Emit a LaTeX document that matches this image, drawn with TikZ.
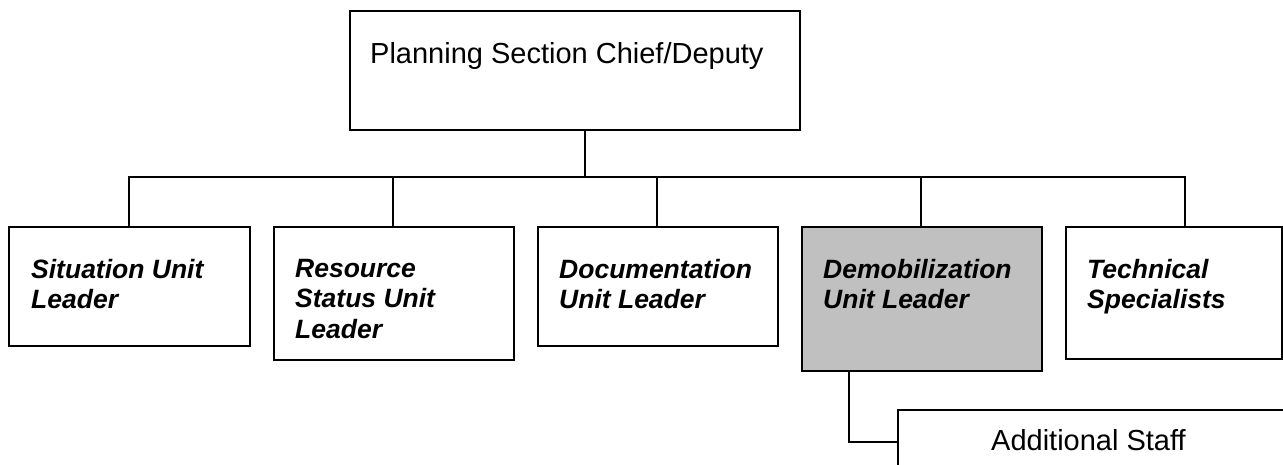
\documentclass[tikz,border=0pt]{standalone}
\usepackage{fontspec}
\setmainfont{Liberation Sans}
\definecolor{shade}{HTML}{C0C0C0}
\begin{document}
\begin{tikzpicture}[x=1pt,y=-1pt,
  box/.style={draw=black,line width=1.6pt,fill=white,anchor=north west,inner sep=0pt,minimum width=#1},
  unittext/.style={anchor=north west,inner sep=0pt,align=left,font=\fontsize{26.5}{30.5}\selectfont\bfseries\itshape},
  plaintext/.style={anchor=north west,inner sep=0pt,font=\fontsize{29}{34}\selectfont},
  link/.style={line width=1.6pt,line cap=rect}]
\useasboundingbox (0,0) rectangle (1283,465);
% boxes
\node[box=450pt,minimum height=119pt] (chief) at (349,10) {};
\node[box=241pt,minimum height=119pt] (sit) at (8,226) {};
\node[box=240pt,minimum height=133pt] (res) at (273,226) {};
\node[box=240pt,minimum height=119pt] (doc) at (537,226) {};
\node[box=240pt,minimum height=144pt,fill=shade] (demob) at (801,226) {};
\node[box=216pt,minimum height=132pt] (tech) at (1065,226) {};
\node[box=400pt,minimum height=80pt] (staff) at (897,409) {};
% labels
\node[plaintext] (chieflbl) at (370,42) {Planning Section Chief/Deputy};
\node[unittext] (sitlbl) at (31,259) {Situation Unit\\Leader};
\node[unittext] (reslbl) at (295,259) {Resource\\Status Unit\\Leader};
\node[unittext] (doclbl) at (559,259) {Documentation\\Unit Leader};
\node[unittext] (demoblbl) at (823,259) {Demobilization\\Unit Leader};
\node[unittext] (techlbl) at (1087,259) {Technical\\Specialists};
\node[plaintext] (stafflbl) at (991,429) {Additional Staff};
% connectors
\coordinate (bus) at (585,177);
\draw[link] (chief.south -| bus) -- (bus);
\draw[link] (sit.north -| 129,0) |- (bus);
\draw[link] (tech.north -| 1185,0) |- (bus);
\draw[link] (res.north -| 393,0) -- (393,177);
\draw[link] (doc.north -| 657,0) -- (657,177);
\draw[link] (demob.north -| 921,0) -- (921,177);
\draw[link] (demob.south -| 849,0) |- (staff.west |- 0,442);
\end{tikzpicture}
\end{document}
